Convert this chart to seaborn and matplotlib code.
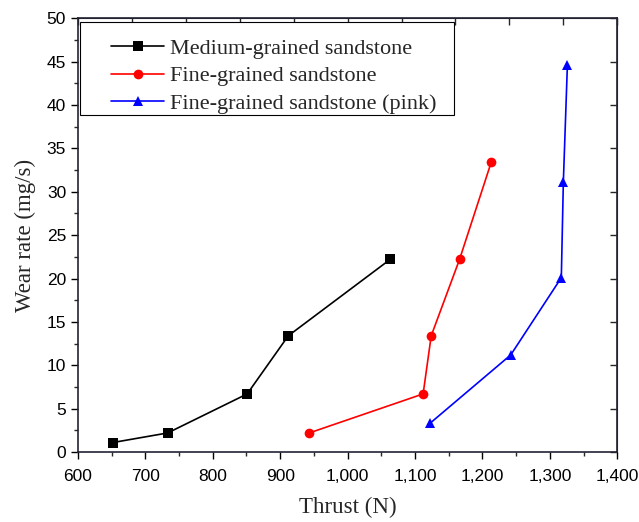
import numpy as np
import pandas as pd
import seaborn as sns
import matplotlib.pyplot as plt
from matplotlib.patches import Rectangle
from matplotlib.ticker import FuncFormatter, MultipleLocator

# valores
series = ["Medium-grained sandstone", "Fine-grained sandstone", "Fine-grained sandstone (pink)"]
thrust_medium = [652, 733, 851, 912, 1063]
wear_medium = [1.1, 2.2, 6.7, 13.4, 22.2]
thrust_fine = [943, 1112, 1124, 1166, 1213]
wear_fine = [2.2, 6.7, 13.4, 22.2, 33.4]
thrust_pink = [1122, 1242, 1317, 1320, 1326]
wear_pink = [3.3, 11.2, 20.1, 31.1, 44.6]

df = pd.concat([
    pd.DataFrame({"thrust": thrust_medium, "wear": wear_medium, "tipo": series[0]}),
    pd.DataFrame({"thrust": thrust_fine, "wear": wear_fine, "tipo": series[1]}),
    pd.DataFrame({"thrust": thrust_pink, "wear": wear_pink, "tipo": series[2]}),
], ignore_index=True)

sns.set_style("ticks")
plt.rcParams["font.family"] = ["Liberation Sans", "DejaVu Sans"]

fig, ax = plt.subplots(figsize=(6.39, 5.22), dpi=100)
cores = {series[0]: "black", series[1]: "red", series[2]: "blue"}
marcas = {series[0]: "s", series[1]: "o", series[2]: "^"}
sns.lineplot(data=df, x="thrust", y="wear", hue="tipo", style="tipo",
             palette=cores, markers=marcas, dashes=False, sort=False,
             estimator=None, linewidth=1.2, markersize=7,
             markeredgewidth=0, ax=ax)

ax.set_xlim(600, 1400)
ax.set_ylim(0, 50)
ax.xaxis.set_major_locator(MultipleLocator(100))
ax.xaxis.set_minor_locator(MultipleLocator(50))
ax.yaxis.set_major_locator(MultipleLocator(5))
ax.yaxis.set_minor_locator(MultipleLocator(2.5))
ax.xaxis.set_major_formatter(FuncFormatter(lambda v, p: f"{int(v):,}"))
ax.tick_params(which="major", direction="out", length=5, width=1, labelsize=12.5, colors="black")
ax.tick_params(axis="x", which="major", pad=7.5)
ax.tick_params(which="minor", direction="out", length=3, width=1)
for s in ax.spines.values():
    s.set_linewidth(1.2)
    s.set_color("#222233")

# eixos de cima e da direita (ticks para dentro)
topo = ax.secondary_xaxis("top")
topo.set_xticks(np.linspace(600, 1400, 11))
topo.tick_params(direction="in", length=5, width=1, labeltop=False)
dir_ = ax.secondary_yaxis("right")
dir_.set_yticks(np.arange(0, 51, 5))
dir_.tick_params(direction="in", length=5, width=1, labelright=False)

ax.set_xlabel("Thrust (N)", family="Liberation Serif", fontsize=16.5, labelpad=9)
ax.set_ylabel("Wear rate (mg/s)", family="Liberation Serif", fontsize=16.5, labelpad=8)

# legenda sem moldura + caixa desenhada à parte
leg = ax.legend(loc="upper left", bbox_to_anchor=(0.062, 0.953),
                prop={"family": "Liberation Serif", "size": 16},
                frameon=False, borderaxespad=0, borderpad=0, handlelength=2.35,
                handletextpad=0.3, labelspacing=0.3)
ax.add_patch(Rectangle((0.004, 0.776), 0.693, 0.215, transform=ax.transAxes,
                       fill=True, facecolor="white", edgecolor="black",
                       linewidth=0.8, zorder=4))
leg.set_zorder(5)

plt.subplots_adjust(left=0.122, right=0.966, top=0.965, bottom=0.134)
plt.savefig("out.png", dpi=100)
plt.close()
